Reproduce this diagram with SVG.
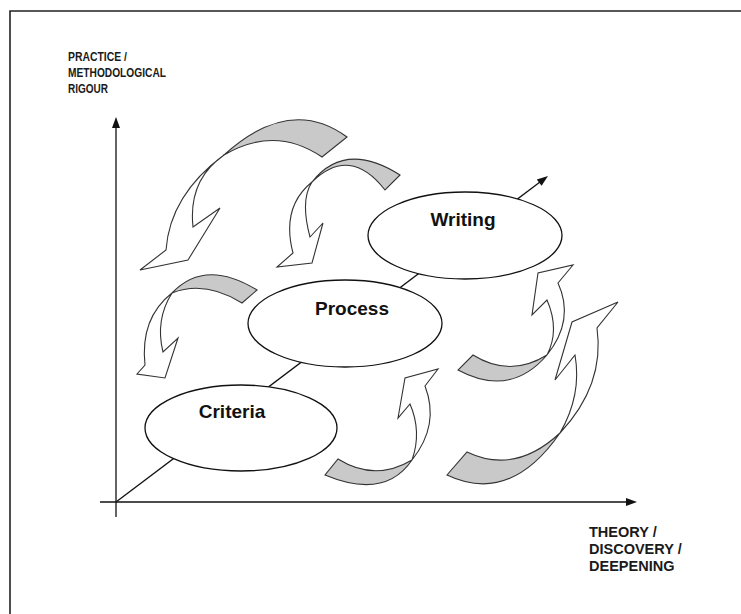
<svg xmlns="http://www.w3.org/2000/svg" width="741" height="614" viewBox="0 0 741 614">
  <style>
    .frame { fill: none; stroke: #222; stroke-width: 1.6; }
    .axis { fill: none; stroke: #111; stroke-width: 1.3; }
    .head { fill: #111; stroke: none; }
    .node { fill: #fff; stroke: #111; stroke-width: 1.3; }
    .label { font-family: "Liberation Sans", Arial, sans-serif; font-weight: bold; font-size: 19px; fill: #111; text-anchor: middle; }
    .axislabel { font-family: "Liberation Sans", Arial, sans-serif; font-weight: bold; font-size: 14.5px; fill: #1a1a1a; }
    .narrow { font-family: "Liberation Sans", Arial, sans-serif; font-weight: bold; font-size: 13.5px; fill: #1a1a1a; }
    .back { fill: #c9c9c9; stroke: #333; stroke-width: 1.1; stroke-linejoin: miter; }
    .front { fill: #fff; stroke: #333; stroke-width: 1.1; stroke-linejoin: miter; }
  </style>

  <rect x="0" y="0" width="741" height="614" fill="#fff"/>

  <!-- outer frame (top and left edges) -->
  <polyline class="frame" points="10,614 10,11 741,11"/>

  <!-- axes and growth diagonal -->
  <g id="connectors">
    <line class="axis" x1="116" y1="517" x2="116" y2="127"/>
    <polygon class="head" points="116,117 112,128 120,128"/>
    <line class="axis" x1="100" y1="502" x2="627" y2="502"/>
    <polygon class="head" points="637,502 626,498 626,506"/>
    <line class="axis" x1="116" y1="502" x2="540" y2="182"/>
    <polygon class="head" points="548,176 541.6,185.8 536.8,179.4"/>
  </g>

  <g id="axis-labels">
    <text class="narrow" x="68" y="61" textLength="59" lengthAdjust="spacingAndGlyphs">PRACTICE /</text>
    <text class="narrow" x="68" y="77" textLength="98" lengthAdjust="spacingAndGlyphs">METHODOLOGICAL</text>
    <text class="narrow" x="68" y="93" textLength="40" lengthAdjust="spacingAndGlyphs">RIGOUR</text>
    <text class="axislabel" x="589" y="537">THEORY /</text>
    <text class="axislabel" x="589" y="554">DISCOVERY /</text>
    <text class="axislabel" x="589" y="571">DEEPENING</text>
  </g>

  <!-- stages -->
  <g id="criteria">
    <ellipse class="node" cx="241" cy="428" rx="96" ry="43"/>
    <text class="label" x="232" y="418">Criteria</text>
  </g>
  <g id="process">
    <ellipse class="node" cx="345" cy="323.5" rx="97" ry="43.5"/>
    <text class="label" x="352" y="315">Process</text>
  </g>
  <g id="writing">
    <ellipse class="node" cx="465" cy="235.5" rx="97" ry="43.5"/>
    <text class="label" x="463" y="226">Writing</text>
  </g>

  <!-- curved cycle arrows: grey band is the back face, white band the front with its head -->
  <g id="arrow-top-left">
    <path class="back" d="M224,155 Q290,95 347,137 L322,157 Q275,125 224,155 Z"/>
    <path class="front" d="M224,155 Q170,195 166,250 L140,270 L188,260 L220,208 L193,227 Q188,180 224,155 Z"/>
  </g>
  <g id="arrow-top-middle">
    <path class="back" d="M312,182 Q345,140 400,175 L385,190 Q350,145 312,182 Z"/>
    <path class="front" d="M312,182 Q281,207 293,253 L277,267 L312,263 L323,223 L310,237 Q300,200 312,182 Z"/>
  </g>
  <g id="arrow-left-middle">
    <path class="back" d="M172,293 Q205,258 257,290 L242,303 Q205,280 172,293 Z"/>
    <path class="front" d="M172,293 Q140,318 145,365 L137,374 L165,378 L178,338 L163,352 Q155,320 172,293 Z"/>
  </g>
  <g id="arrow-bottom-middle">
    <path class="back" d="M412,460 Q385,500 325,475 L338,459 Q375,482 412,460 Z"/>
    <path class="front" d="M412,460 Q440,425 425,386 L438,369 L405,378 L398,418 L410,404 Q422,432 412,460 Z"/>
  </g>
  <g id="arrow-right-middle">
    <path class="back" d="M547,355 Q510,398 458,370 L473,355 Q510,378 547,355 Z"/>
    <path class="front" d="M547,355 Q575,320 558,283 L573,265 L538,273 L532,315 L547,300 Q560,330 547,355 Z"/>
  </g>
  <g id="arrow-bottom-right">
    <path class="back" d="M560,433 Q510,505 447,475 L467,452 Q515,475 560,433 Z"/>
    <path class="front" d="M560,433 Q605,385 597,328 L618,302 L572,322 L555,380 L575,355 Q582,395 560,433 Z"/>
  </g>
</svg>
